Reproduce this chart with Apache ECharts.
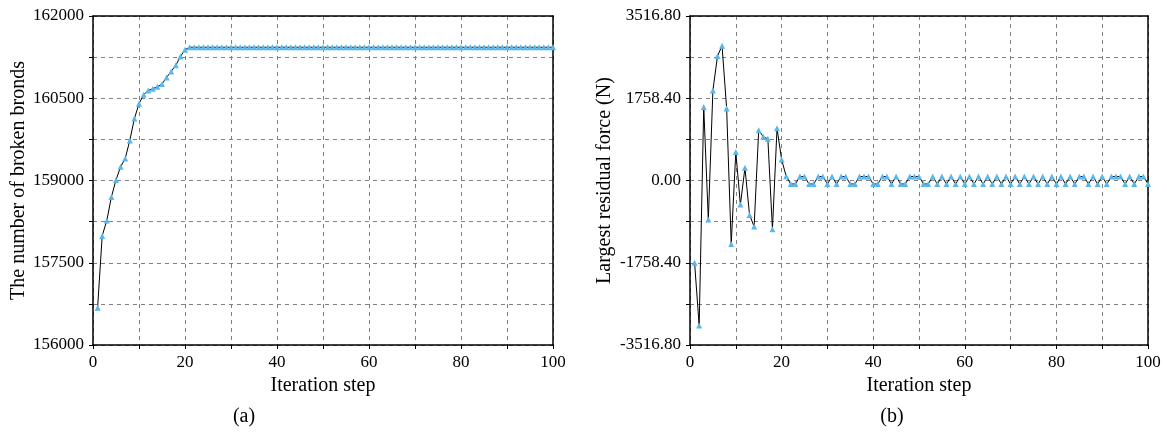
<!DOCTYPE html>
<html>
<head>
<meta charset="utf-8">
<script src="https://cdn.jsdelivr.net/npm/echarts@6/dist/echarts.min.js"></script>
<style>html,body{margin:0;padding:0;background:#fff}#c{width:1167px;height:437px}</style>
</head>
<body>
<div id="c"></div>
<script>
const steps = [1,2,3,4,5,6,7,8,9,10,11,12,13,14,15,16,17,18,19,20,21,22,23,24,25,26,27,28,29,30,31,32,33,34,35,36,37,38,39,40,41,42,43,44,45,46,47,48,49,50,51,52,53,54,55,56,57,58,59,60,61,62,63,64,65,66,67,68,69,70,71,72,73,74,75,76,77,78,79,80,81,82,83,84,85,86,87,88,89,90,91,92,93,94,95,96,97,98,99,100];
const brokenBonds = [156680,157990,158270,158700,159010,159250,159400,159730,160130,160400,
  160565,160640,160675,160710,160760,160880,160990,161100,161260,161385,
  161430,161430,161430,161430,161430,161430,161430,161430,161430,161430,
  161430,161430,161430,161430,161430,161430,161430,161430,161430,161430,
  161430,161430,161430,161430,161430,161430,161430,161430,161430,161430,
  161430,161430,161430,161430,161430,161430,161430,161430,161430,161430,
  161430,161430,161430,161430,161430,161430,161430,161430,161430,161430,
  161430,161430,161430,161430,161430,161430,161430,161430,161430,161430,
  161430,161430,161430,161430,161430,161430,161430,161430,161430,161430,
  161430,161430,161430,161430,161430,161430,161430,161430,161430,161430];
const residualForce = [-1760,-3100,1570,-835,1925,2660,2880,1540,-1355,610,
  -515,270,-735,-985,1075,935,890,-1040,1115,450,
  90,-75,-75,85,85,-75,-75,85,85,-75,
  85,-75,85,85,-75,-75,85,85,85,-75,
  -75,85,85,-75,85,-75,-75,85,85,85,
  -75,-75,85,-75,85,-75,85,-75,85,-75,
  85,-75,85,-75,85,-75,85,-75,85,-75,
  85,-75,85,-75,85,-75,85,-75,85,-75,
  85,-75,85,-75,85,85,-75,85,-75,85,
  -75,85,85,85,-75,85,-75,85,85,-75];
const leftTicks = [156000,157500,159000,160500,162000];
const rightTicks = [-3516.8,-1758.4,0,1758.4,3516.8];
const xTicks = [0,20,40,60,80,100];

const FONT = 'Liberation Serif';
const chart = echarts.init(document.getElementById('c'), null, {renderer:'canvas'});
const dash = {color:'#808080', width:1, type:[4,4]};
const LBL = 17, NAME = 20;

function xAxis(gi){
  return {
    type:'value', gridIndex:gi, min:0, max:100, interval:10,
    name:'Iteration step', nameLocation:'middle', nameGap:25,
    nameTextStyle:{fontFamily:FONT, fontSize:NAME, color:'#000'},
    axisLine:{onZero:false, lineStyle:{color:'#000', width:1.5}},
    axisTick:{show:true, length:4, lineStyle:{color:'#000'}},
    axisLabel:{fontFamily:FONT, fontSize:LBL, color:'#000', margin:9,
      formatter:v => xTicks.indexOf(v) >= 0 ? String(v) : ''},
    splitLine:{show:true, lineStyle:dash}
  };
}
function frameX(gi){
  return {type:'value', gridIndex:gi, min:0, max:100, position:'top',
    axisLine:{show:true, onZero:false, lineStyle:{color:'#000', width:1.5}},
    axisTick:{show:false}, axisLabel:{show:false}, splitLine:{show:false}};
}
function frameY(gi, mn, mx){
  return {type:'value', gridIndex:gi, min:mn, max:mx, position:'right',
    axisLine:{show:true, onZero:false, lineStyle:{color:'#000', width:1.5}},
    axisTick:{show:false}, axisLabel:{show:false}, splitLine:{show:false}};
}

const pairsL = steps.map((s,i)=>[s, brokenBonds[i]]);
const pairsR = steps.map((s,i)=>[s, residualForce[i]]);

chart.setOption({
  animation:false,
  backgroundColor:'#fff',
  title:[
    {text:'(a)', left:239, top:402, textAlign:'center', textStyle:{fontFamily:FONT, fontSize:NAME, fontWeight:'normal', color:'#000'}},
    {text:'(b)', left:887, top:402, textAlign:'center', textStyle:{fontFamily:FONT, fontSize:NAME, fontWeight:'normal', color:'#000'}}
  ],
  grid:[
    {left:93, top:16, width:460, height:329, containLabel:false},
    {left:690, top:16, width:458, height:329, containLabel:false}
  ],
  xAxis:[xAxis(0), xAxis(1), frameX(0), frameX(1)],
  yAxis:[
    {type:'value', gridIndex:0, min:156000, max:162000, interval:750,
      name:'The number of broken bronds', nameLocation:'middle', nameGap:63,
      nameTextStyle:{fontFamily:FONT, fontSize:NAME, color:'#000'},
      axisLine:{show:true, onZero:false, lineStyle:{color:'#000', width:1.5}},
      axisTick:{show:true, length:4, lineStyle:{color:'#000'}},
      axisLabel:{fontFamily:FONT, fontSize:LBL, color:'#000', margin:9,
        formatter:v => leftTicks.indexOf(v) >= 0 ? String(v) : ''},
      splitLine:{show:true, lineStyle:dash}},
    {type:'value', gridIndex:1, min:-3516.8, max:3516.8, interval:879.2,
      name:'Largest residual force (N)', nameLocation:'middle', nameGap:75,
      nameTextStyle:{fontFamily:FONT, fontSize:NAME, color:'#000'},
      axisLine:{show:true, onZero:false, lineStyle:{color:'#000', width:1.5}},
      axisTick:{show:true, length:4, lineStyle:{color:'#000'}},
      axisLabel:{fontFamily:FONT, fontSize:LBL, color:'#000', margin:9,
        formatter:v => {
          const k = Math.round(v/879.2);
          if (k % 2 !== 0) return '';
          const t = rightTicks[(k+4)/2];
          return t.toFixed(2);
        }},
      splitLine:{show:true, lineStyle:dash}},
    frameY(0, 156000, 162000),
    frameY(1, -3516.8, 3516.8)
  ],
  series:[
    {type:'line', xAxisIndex:0, yAxisIndex:0, data:pairsL,
      symbol:'triangle', symbolSize:6, showAllSymbol:true,
      itemStyle:{color:'#5BB6E9'}, lineStyle:{color:'#000', width:1}},
    {type:'line', xAxisIndex:1, yAxisIndex:1, data:pairsR,
      symbol:'triangle', symbolSize:6, showAllSymbol:true,
      itemStyle:{color:'#5BB6E9'}, lineStyle:{color:'#000', width:1}}
  ]
});
</script>
</body>
</html>
